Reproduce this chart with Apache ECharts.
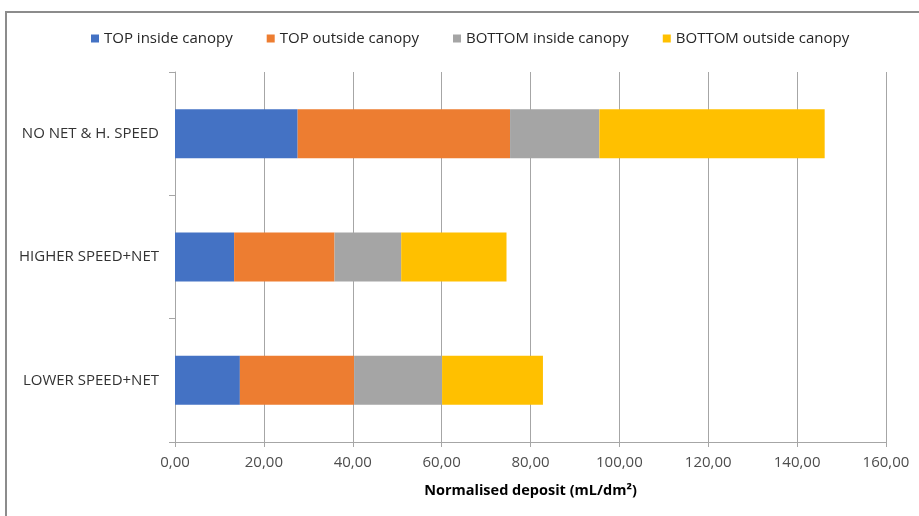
<!DOCTYPE html>
<html>
<head>
<meta charset="utf-8">
<script src="https://cdn.jsdelivr.net/npm/echarts@6/dist/echarts.min.js"></script>
<style>
  html, body { margin: 0; padding: 0; background: #fff; }
  #chart { width: 919px; height: 516px; }
</style>
</head>
<body>
<div id="chart"></div>
<script>
// Treatments (bottom to top on the category axis)
const categories = ['LOWER SPEED+NET', 'HIGHER SPEED+NET', 'NO NET & H. SPEED'];

// Normalised deposit per sampling zone (mL/dm²)
const topInside = [14.6, 13.3, 27.6];
const topOutside = [25.7, 22.6, 47.8];
const bottomInside = [19.8, 15.0, 20.1];
const bottomOutside = [22.7, 23.7, 50.7];

const seriesNames = ['TOP inside canopy', 'TOP outside canopy', 'BOTTOM inside canopy', 'BOTTOM outside canopy'];
const seriesColors = ['#4472C4', '#ED7D31', '#A5A5A5', '#FFC000'];
const seriesData = [topInside, topOutside, bottomInside, bottomOutside];

const axisTicks = { min: 0, max: 160, interval: 20 };

const font = 'Open Sans';

const chart = echarts.init(document.getElementById('chart'), null, { renderer: 'canvas' });

chart.setOption({
  backgroundColor: '#ffffff',
  animation: false,
  graphic: [{
    type: 'rect',
    shape: { x: 6, y: 12, width: 960, height: 600 },
    style: { fill: 'none', stroke: '#8c8c8c', lineWidth: 2 },
    silent: true
  }],
  legend: {
    left: 86,
    top: 26,
    itemWidth: 8,
    itemHeight: 8,
    itemGap: 34,
    icon: 'rect',
    textStyle: { fontFamily: font, fontSize: 15, color: '#262626' },
    data: seriesNames
  },
  grid: { left: 175, right: 33, top: 72, bottom: 74, containLabel: false },
  xAxis: {
    type: 'value',
    min: axisTicks.min,
    max: axisTicks.max,
    interval: axisTicks.interval,
    name: 'Normalised deposit (mL/dm²)',
    nameLocation: 'middle',
    nameGap: 41,
    nameTextStyle: { fontFamily: font, fontSize: 14.5, fontWeight: 'bold', color: '#000000' },
    axisLine: { show: true, lineStyle: { color: '#a6a6a6', width: 1 } },
    axisTick: { show: true, length: 5, lineStyle: { color: '#a6a6a6' } },
    axisLabel: {
      fontFamily: font, fontSize: 15, color: '#4d4d4d', margin: 13,
      formatter: v => v.toFixed(2).replace('.', ',')
    },
    splitLine: { show: true, lineStyle: { color: '#a6a6a6', width: 1 } }
  },
  yAxis: {
    type: 'category',
    data: categories,
    axisLine: { show: true, lineStyle: { color: '#a6a6a6', width: 1 } },
    axisTick: { show: true, length: 6, lineStyle: { color: '#a6a6a6' } },
    axisLabel: { fontFamily: font, fontSize: 15, color: '#333333', margin: 16 }
  },
  series: seriesNames.map((name, i) => ({
    name: name,
    type: 'bar',
    stack: 'total',
    barWidth: 49,
    itemStyle: { color: seriesColors[i] },
    data: seriesData[i]
  }))
});
</script>
</body>
</html>
